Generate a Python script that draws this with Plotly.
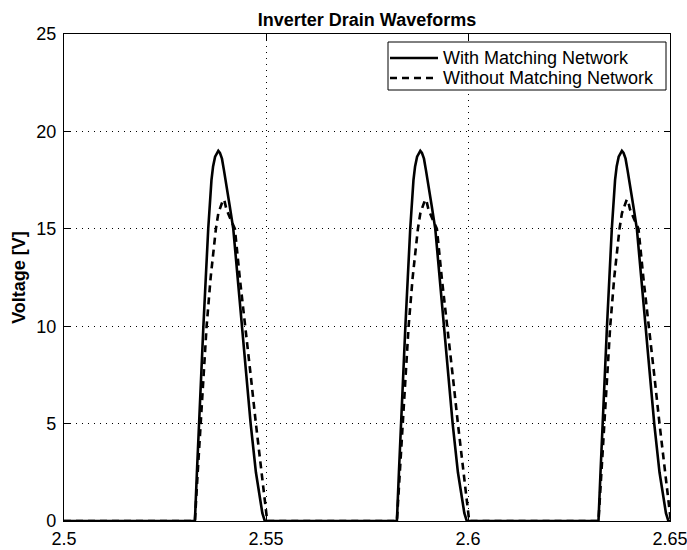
import plotly.graph_objects as go

# Pulse onset times [s] for the three drain pulses shown
pulse_onsets = [2.5324, 2.5824, 2.6323]

# Drain voltage shape of one pulse: time after onset [s] and voltage [V]
with_dt = [0, 0.0005, 0.0010, 0.0015, 0.0021, 0.0027, 0.0033, 0.0041, 0.0045,
           0.0050, 0.0055, 0.0058, 0.0062, 0.0067, 0.0072, 0.0077, 0.0086,
           0.0095, 0.0106, 0.0116, 0.0127, 0.0138, 0.0151, 0.0160, 0.0167,
           0.0173]
with_v = [0, 2.5, 5, 7.5, 10, 12.5, 15, 17.5, 18.2, 18.7, 18.95, 19.0, 18.9,
          18.6, 18.0, 17.4, 16.2, 15, 12.5, 10, 7.5, 5, 2.5, 1.2, 0.4, 0]

without_dt = [0, 0.0007, 0.0014, 0.0021, 0.0029, 0.0039, 0.0046, 0.0052,
              0.0058, 0.0064, 0.0070, 0.0073, 0.0078, 0.0088, 0.0099, 0.0111,
              0.0125, 0.0138, 0.0151, 0.0165, 0.0172, 0.0179]
without_v = [0, 2.5, 5, 7.5, 10, 12.5, 14, 15, 15.8, 16.2, 16.5, 16.45, 16.0,
             15.5, 15, 12.5, 10, 7.5, 5, 2.5, 1.2, 0]

series_names = ["With Matching Network", "Without Matching Network"]

x_range = [2.5, 2.65]
y_range = [0, 25]
x_ticks = [2.5, 2.55, 2.6, 2.65]
x_ticktext = ["2.5", "2.55", "2.6", "2.65"]
y_ticks = [0, 5, 10, 15, 20, 25]

W, H = 687, 550
ML, MR, MT, MB = 64, 17, 34, 29
PW, PH = W - ML - MR, H - MT - MB


def px_x(px):
    """Horizontal pixel -> paper fraction."""
    return (px - ML) / PW


def px_y(py):
    """Vertical pixel (from top) -> paper fraction."""
    return (H - MB - py) / PH


def waveform(dts, vs):
    """Place the pulse shape at each onset, with 0 V between pulses."""
    xs, ys = [x_range[0]], [0]
    for t0 in pulse_onsets:
        for dt, v in zip(dts, vs):
            xs.append(t0 + dt)
            ys.append(v)
    if xs[-1] < x_range[1]:
        xs.append(x_range[1])
        ys.append(0)
    return xs, ys


FONT = "Liberation Sans, Arial, Helvetica, sans-serif"
DASH = "7px,5px"
LW = 2.6

wx, wy = waveform(with_dt, with_v)
nx, ny = waveform(without_dt, without_v)

fig = go.Figure()
fig.add_trace(go.Scatter(x=wx, y=wy, mode="lines", name=series_names[0],
                         line=dict(color="black", width=LW)))
fig.add_trace(go.Scatter(x=nx, y=ny, mode="lines", name=series_names[1],
                         line=dict(color="black", width=LW, dash=DASH)))

axis_common = dict(
    showline=True, linecolor="black", linewidth=1.2, mirror="ticks",
    ticks="inside", ticklen=6, tickwidth=1, tickcolor="black",
    showgrid=True, gridcolor="black", gridwidth=1, griddash="1px,5px",
    zeroline=False, automargin=False, ticklabeloverflow="allow",
    tickfont=dict(family=FONT, size=18, color="black"),
)

# Boxed legend in the upper right corner of the axes
box = dict(x0=388, x1=666, y0=42, y1=90)
rows_y = [58, 78]
sample_x = [390, 438]
text_x = 441

shapes = [dict(type="rect", xref="paper", yref="paper",
               x0=px_x(box["x0"]), x1=px_x(box["x1"]),
               y0=px_y(box["y1"]), y1=px_y(box["y0"]),
               line=dict(color="black", width=1), fillcolor="white",
               layer="above")]
annotations = []
for name, ry, dash in zip(series_names, rows_y, ["solid", DASH]):
    shapes.append(dict(type="line", xref="paper", yref="paper",
                       x0=px_x(sample_x[0]), x1=px_x(sample_x[1]),
                       y0=px_y(ry), y1=px_y(ry), layer="above",
                       line=dict(color="black", width=LW, dash=dash)))
    annotations.append(dict(text=name, xref="paper", yref="paper",
                            x=px_x(text_x), y=px_y(ry), xanchor="left",
                            yanchor="middle", showarrow=False,
                            font=dict(family=FONT, size=18, color="black")))

fig.update_layout(
    width=W, height=H,
    margin=dict(l=ML, r=MR, t=MT, b=MB),
    paper_bgcolor="white", plot_bgcolor="white",
    showlegend=False,
    title=dict(
        text="<b>Inverter Drain Waveforms</b>",
        font=dict(family=FONT, size=18, color="black"),
        x=(ML + W - MR) / 2 / W, xanchor="center",
        y=1 - 20 / H, yanchor="middle", yref="container",
    ),
    xaxis=dict(range=x_range, tickvals=x_ticks, ticktext=x_ticktext,
               ticklabelstandoff=1, **axis_common),
    yaxis=dict(range=y_range, tickvals=y_ticks, ticklabelstandoff=3,
               title=dict(text="<b>Voltage [V]</b>", standoff=5,
                          font=dict(family=FONT, size=18, color="black")),
               **axis_common),
    shapes=shapes,
    annotations=annotations,
)

fig.write_html("out.html")
